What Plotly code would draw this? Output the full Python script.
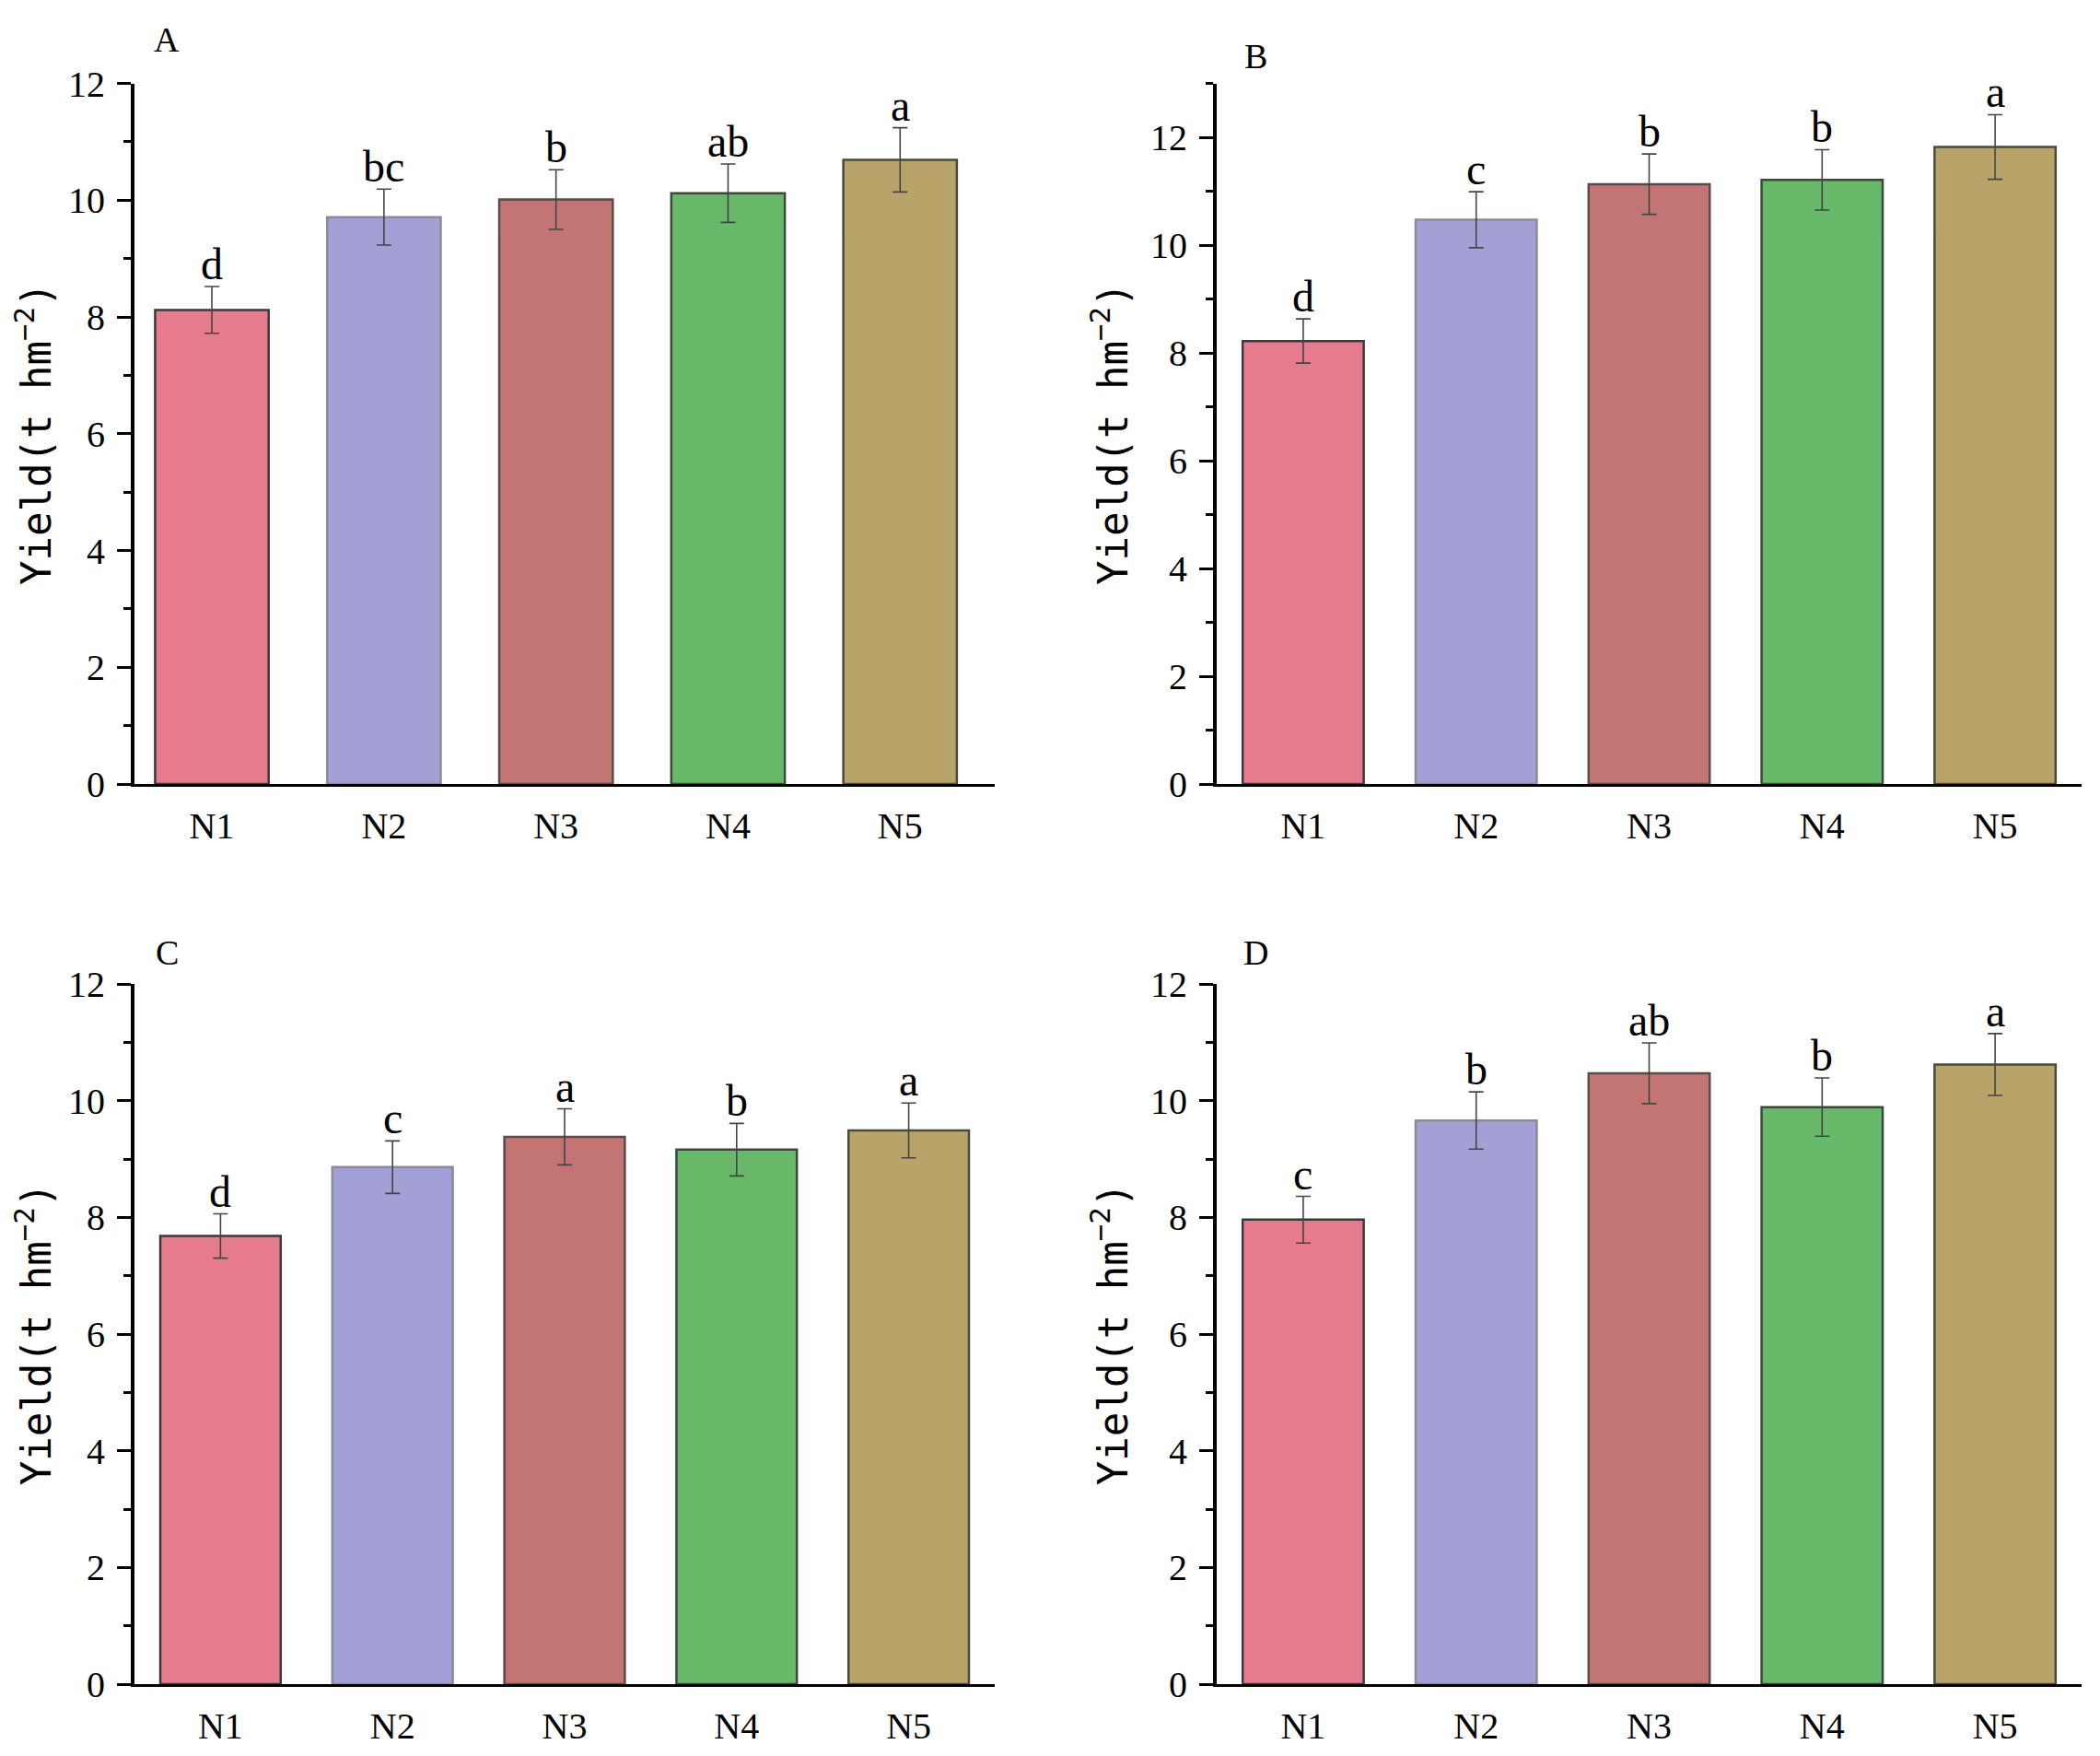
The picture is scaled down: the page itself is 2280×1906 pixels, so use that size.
import plotly.graph_objects as go

categories = ["N1", "N2", "N3", "N4", "N5"]
bar_colors = ["#E57B8C", "#A3A0D5", "#C37573", "#68B86A", "#B8A468"]
line_colors = ["#3a3a3a", "#8a8a9a", "#5a4a4a", "#3a4a3a", "#4a4a3a"]

yield_a = [8.12, 9.71, 10.01, 10.12, 10.69]
err_a = [0.40, 0.48, 0.51, 0.50, 0.55]
letters_a = ["d", "bc", "b", "ab", "a"]

yield_b = [8.22, 10.47, 11.13, 11.21, 11.82]
err_b = [0.41, 0.52, 0.56, 0.56, 0.60]
letters_b = ["d", "c", "b", "b", "a"]

yield_c = [7.68, 8.86, 9.38, 9.16, 9.49]
err_c = [0.38, 0.45, 0.48, 0.45, 0.47]
letters_c = ["d", "c", "a", "b", "a"]

yield_d = [7.96, 9.66, 10.47, 9.89, 10.62]
err_d = [0.40, 0.49, 0.52, 0.50, 0.53]
letters_d = ["c", "b", "ab", "b", "a"]

panels = [
    ("A", yield_a, err_a, letters_a, "", 0.66),
    ("B", yield_b, err_b, letters_b, "2", 0.70),
    ("C", yield_c, err_c, letters_c, "3", 0.70),
    ("D", yield_d, err_d, letters_d, "4", 0.70),
]

# the page body has an 8px margin, so the figure is made smaller and
# all pixel positions below are taken relative to that offset
OFF = 8
W, H = 2280 - 2 * OFF, 1906 - 2 * OFF

# plot areas in page pixels (left, right, top, bottom)
boxes = {
    "A": (146, 1080, 90.5, 851),
    "B": (1321, 2260, 90.5, 851),
    "C": (146, 1080, 1068, 1828),
    "D": (1321, 2260, 1068, 1828),
}
xranges = {"A": [-0.45, 4.55], "B": [-0.5, 4.5], "C": [-0.5, 4.5], "D": [-0.5, 4.5]}
yranges = {"A": [0, 12], "B": [0, 13], "C": [0, 12], "D": [0, 12]}
label_pos = {"A": (181, 43), "B": (1363, 61), "C": (181, 1034), "D": (1363, 1034)}

serif = "Liberation Serif, Times New Roman, serif"
mono = "DejaVu Sans Mono, monospace"


def fx(px):
    return (px - OFF) / W


def fy(py):
    return 1 - (py - OFF) / H


fig = go.Figure()
annotations = []
layout = {}

for name, vals, errs, letters, sfx, bw in panels:
    fig.add_trace(go.Bar(
        x=categories,
        y=vals,
        width=bw,
        marker=dict(color=bar_colors, line=dict(color=line_colors, width=2.5)),
        error_y=dict(type="data", array=errs, visible=True,
                     color="#444444", thickness=1.6, width=8),
        xaxis="x" + sfx,
        yaxis="y" + sfx,
        showlegend=False,
    ))

    l, r, t, b = boxes[name]
    layout["xaxis" + sfx] = dict(
        domain=[fx(l), fx(r)],
        anchor="y" + sfx,
        range=xranges[name],
        showline=True, linecolor="black", linewidth=3,
        ticks="", showgrid=False, zeroline=False,
        tickfont=dict(family=serif, size=40, color="black"),
        ticklabelstandoff=8,
        automargin=False,
    )
    layout["yaxis" + sfx] = dict(
        domain=[fy(b), fy(t)],
        anchor="x" + sfx,
        range=yranges[name],
        dtick=2, tick0=0,
        showline=True, linecolor="black", linewidth=4,
        ticks="outside", ticklen=15, tickwidth=3, tickcolor="black",
        minor=dict(dtick=1, ticks="outside", ticklen=8, tickwidth=3, tickcolor="black"),
        showgrid=False, zeroline=False,
        tickfont=dict(family=serif, size=40, color="black"),
        ticklabelstandoff=5,
        title=dict(text="Yield(t hm<sup>−2</sup>)",
                   font=dict(family=mono, size=44, color="black"),
                   standoff=12),
        automargin=False,
    )

    # significance letters above the error bars
    for cat, v, e, lt in zip(categories, vals, errs, letters):
        annotations.append(dict(
            x=cat, y=v + e, xref="x" + sfx, yref="y" + sfx,
            text=lt, showarrow=False, yanchor="bottom", yshift=-4,
            font=dict(family=serif, size=48, color="black"),
        ))

    px_, py_ = label_pos[name]
    annotations.append(dict(
        x=fx(px_), y=fy(py_), xref="paper", yref="paper",
        text=name, showarrow=False, xanchor="center", yanchor="middle",
        font=dict(family=serif, size=38, color="black"),
    ))

fig.update_layout(
    width=W, height=H,
    margin=dict(l=0, r=0, t=0, b=0),
    paper_bgcolor="white",
    plot_bgcolor="white",
    annotations=annotations,
    **layout
)

fig.write_html("out.html")
